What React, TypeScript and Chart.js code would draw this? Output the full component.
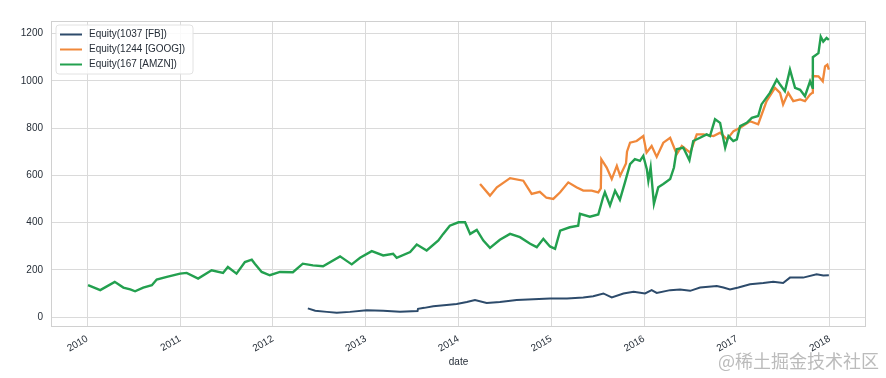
import React, { useEffect, useRef } from "react";
import { Chart, registerables } from "chart.js";

Chart.register(...registerables);

const seriesNames = ["Equity(1037 [FB])", "Equity(1244 [GOOG])", "Equity(167 [AMZN])"];
const seriesColors = ["#2d4b6b", "#f0883a", "#23a04f"];

const fbDates = [
  "2012-05-18", "2012-06-16", "2012-08-01", "2012-09-09", "2012-10-31", "2013-01-05", "2013-03-11",
  "2013-05-16", "2013-07-24", "2013-07-26", "2013-08-20", "2013-09-24", "2013-11-15", "2013-12-25",
  "2014-02-03", "2014-03-07", "2014-04-22", "2014-06-13", "2014-08-18", "2014-10-23", "2014-12-27",
  "2015-03-04", "2015-05-07", "2015-06-15", "2015-07-25", "2015-08-27", "2015-10-12", "2015-11-21",
  "2016-01-05", "2016-01-31", "2016-02-20", "2016-04-13", "2016-05-22", "2016-07-01", "2016-08-09",
  "2016-10-14", "2016-11-09", "2016-12-05", "2017-01-07", "2017-02-22", "2017-04-15", "2017-05-24",
  "2017-07-02", "2017-07-29", "2017-09-19", "2017-11-11", "2017-12-07", "2017-12-29",
];
const fbValues = [
  37, 27, 22, 18, 22, 29, 27,
  23, 26, 35, 39, 46, 51, 55,
  64, 72, 60, 64, 72, 75, 79,
  79, 83, 88, 100, 83, 100, 107,
  100, 114, 102, 114, 117, 111, 125,
  131, 125, 117, 125, 139, 144, 149,
  144, 167, 167, 181, 176, 177,
];

const googDates = [
  "2014-03-27", "2014-05-05", "2014-06-01", "2014-07-23", "2014-09-13", "2014-10-16", "2014-11-17",
  "2014-12-13", "2015-01-09", "2015-02-05", "2015-03-09", "2015-04-10", "2015-05-07", "2015-06-09",
  "2015-07-05", "2015-07-15", "2015-07-17", "2015-08-07", "2015-08-27", "2015-09-16", "2015-09-29",
  "2015-10-22", "2015-10-26", "2015-11-07", "2015-12-03", "2015-12-29", "2016-01-11", "2016-01-31",
  "2016-02-20", "2016-03-17", "2016-04-13", "2016-05-09", "2016-05-29", "2016-07-01", "2016-07-27",
  "2016-08-22", "2016-10-01", "2016-10-27", "2016-11-23", "2016-12-19", "2017-01-14", "2017-02-22",
  "2017-03-26", "2017-04-28", "2017-05-31", "2017-06-20", "2017-07-02", "2017-07-22", "2017-08-11",
  "2017-09-07", "2017-09-26", "2017-10-16", "2017-10-26", "2017-10-27", "2017-11-18", "2017-12-05",
  "2017-12-14", "2017-12-23", "2017-12-29",
];
const googValues = [
  563, 514, 549, 588, 577, 521, 530,
  505, 500, 528, 570, 549, 535, 535,
  528, 545, 668, 633, 584, 640, 598,
  650, 700, 738, 745, 766, 696, 724,
  678, 738, 759, 689, 724, 696, 773,
  773, 766, 780, 752, 787, 801, 829,
  816, 914, 970, 949, 900, 949, 914,
  921, 914, 942, 950, 1020, 1019, 998,
  1061, 1068, 1047,
];

const amznDates = [
  "2010-01-04", "2010-02-21", "2010-04-19", "2010-05-23", "2010-06-19", "2010-07-08", "2010-08-09",
  "2010-09-12", "2010-10-01", "2010-11-10", "2011-01-01", "2011-01-27", "2011-03-13", "2011-05-05",
  "2011-06-19", "2011-07-08", "2011-08-11", "2011-09-13", "2011-10-10", "2011-10-22", "2011-11-18",
  "2011-12-20", "2012-01-29", "2012-03-20", "2012-04-28", "2012-06-07", "2012-07-17", "2012-09-22",
  "2012-11-07", "2012-12-10", "2013-01-25", "2013-03-11", "2013-04-19", "2013-05-03", "2013-06-25",
  "2013-07-21", "2013-08-29", "2013-10-14", "2013-11-02", "2013-11-28", "2014-01-01", "2014-01-27",
  "2014-02-16", "2014-03-14", "2014-04-09", "2014-05-05", "2014-06-13", "2014-07-23", "2014-08-31",
  "2014-10-10", "2014-11-05", "2014-12-01", "2014-12-27", "2015-01-16", "2015-02-05", "2015-03-15",
  "2015-04-17", "2015-04-24", "2015-06-02", "2015-07-05", "2015-07-24", "2015-07-31", "2015-08-20",
  "2015-09-09", "2015-09-28", "2015-10-18", "2015-11-07", "2015-11-26", "2015-12-16", "2015-12-29",
  "2016-01-12", "2016-01-18", "2016-01-27", "2016-02-09", "2016-02-26", "2016-03-17", "2016-04-13",
  "2016-04-28", "2016-05-09", "2016-06-04", "2016-06-28", "2016-07-13", "2016-08-09", "2016-09-04",
  "2016-09-17", "2016-10-07", "2016-10-27", "2016-11-16", "2016-11-29", "2016-12-18", "2017-01-01",
  "2017-01-14", "2017-02-09", "2017-03-01", "2017-03-26", "2017-04-08", "2017-05-11", "2017-06-07",
  "2017-06-20", "2017-07-09", "2017-07-29", "2017-08-18", "2017-09-07", "2017-09-26", "2017-10-16",
  "2017-10-26", "2017-10-27", "2017-11-18", "2017-11-27", "2017-12-07", "2017-12-20", "2017-12-29",
];
const amznValues = [
  135, 114, 149, 125, 117, 109, 125,
  135, 159, 170, 184, 187, 163, 198,
  187, 212, 184, 233, 243, 226, 191,
  177, 191, 190, 226, 219, 215, 257,
  223, 251, 279, 261, 268, 251, 275,
  307, 282, 324, 352, 387, 401, 401,
  352, 369, 324, 293, 327, 352, 338,
  310, 296, 331, 299, 289, 366, 380,
  387, 437, 425, 434, 507, 528, 472,
  535, 496, 570, 647, 668, 661, 682,
  626, 577, 633, 479, 549, 563, 584,
  633, 710, 717, 664, 745, 759, 773,
  766, 837, 822, 717, 766, 745, 752,
  808, 822, 843, 851, 900, 949, 1005,
  984, 956, 1047, 970, 962, 935, 998,
  970, 1100, 1117, 1187, 1166, 1181, 1173,
];

const xTickYears = [2010, 2011, 2012, 2013, 2014, 2015, 2016, 2017, 2018];
const yTickValues = [0, 200, 400, 600, 800, 1000, 1200];
const xAxisTitle = "date";
const watermarkText = "@稀土掘金技术社区";

function toYear(s: string): number {
  const [y, m, d] = s.split("-").map(Number);
  const start = Date.UTC(y, 0, 1);
  const end = Date.UTC(y + 1, 0, 1);
  return y + (Date.UTC(y, m - 1, d) - start) / (end - start);
}

function pts(dates: string[], values: number[]) {
  return dates.map((d, i) => ({ x: toYear(d), y: values[i] }));
}

const FONT = "'Liberation Sans', Arial, Helvetica, sans-serif";
const TEXT = "#262e38";
const GRID = "#dadada";

const framePlugin = {
  id: "frame",
  beforeDatasetsDraw(chart: any) {
    const { ctx, chartArea: a } = chart;
    ctx.save();
    ctx.strokeStyle = "#d0d0d0";
    ctx.lineWidth = 1;
    ctx.strokeRect(a.left + 0.5, a.top + 0.5, a.right - a.left - 1, a.bottom - a.top - 1);
    ctx.restore();
  },
  afterDraw(chart: any) {
    const { ctx, chartArea: a } = chart;
    ctx.save();
    const bx = a.left + 5, by = a.top + 4, bw = 137, bh = 49;
    ctx.beginPath();
    const r = 3;
    ctx.moveTo(bx + r, by);
    ctx.lineTo(bx + bw - r, by);
    ctx.quadraticCurveTo(bx + bw, by, bx + bw, by + r);
    ctx.lineTo(bx + bw, by + bh - r);
    ctx.quadraticCurveTo(bx + bw, by + bh, bx + bw - r, by + bh);
    ctx.lineTo(bx + r, by + bh);
    ctx.quadraticCurveTo(bx, by + bh, bx, by + bh - r);
    ctx.lineTo(bx, by + r);
    ctx.quadraticCurveTo(bx, by, bx + r, by);
    ctx.closePath();
    ctx.fillStyle = "rgba(255,255,255,0.85)";
    ctx.fill();
    ctx.strokeStyle = "#e2e2e2";
    ctx.lineWidth = 1;
    ctx.stroke();
    ctx.font = `10px ${FONT}`;
    ctx.textBaseline = "middle";
    ctx.textAlign = "left";
    seriesNames.forEach((name, i) => {
      const yy = by + 9.5 + i * 15;
      ctx.strokeStyle = seriesColors[i];
      ctx.lineWidth = 2;
      ctx.beginPath();
      ctx.moveTo(bx + 4, yy);
      ctx.lineTo(bx + 26, yy);
      ctx.stroke();
      ctx.fillStyle = TEXT;
      ctx.fillText(name, bx + 33, yy);
    });
    ctx.font = `18px 'Noto Sans CJK SC', sans-serif`;
    ctx.textAlign = "right";
    ctx.textBaseline = "middle";
    ctx.fillStyle = "rgba(175,175,175,0.85)";
    ctx.fillText(watermarkText, 879, 361);
    ctx.restore();
  },
};

export default function App() {
  const ref = useRef<HTMLCanvasElement | null>(null);
  useEffect(() => {
    if (!ref.current) return;
    const chart = new Chart(ref.current, {
      type: "line",
      data: {
        datasets: [
          { label: seriesNames[0], data: pts(fbDates, fbValues), borderColor: seriesColors[0], backgroundColor: seriesColors[0], borderWidth: 2, pointRadius: 0, order: 2 },
          { label: seriesNames[1], data: pts(googDates, googValues), borderColor: seriesColors[1], backgroundColor: seriesColors[1], borderWidth: 2.3, pointRadius: 0, order: 1 },
          { label: seriesNames[2], data: pts(amznDates, amznValues), borderColor: seriesColors[2], backgroundColor: seriesColors[2], borderWidth: 2.4, pointRadius: 0, order: 0 },
        ],
      },
      options: {
        animation: false,
        responsive: true,
        maintainAspectRatio: false,
        layout: { padding: { left: 0, top: 21, right: 20, bottom: 0 } },
        plugins: { legend: { display: false }, tooltip: { enabled: false } },
        scales: {
          x: {
            type: "linear",
            min: 2009.609,
            max: 2018.392,
            afterFit: (s: any) => { s.height = 51; },
            afterBuildTicks: (s: any) => { s.ticks = xTickYears.map((v) => ({ value: v })); },
            ticks: {
              callback: (v: any) => String(v),
              minRotation: 30,
              maxRotation: 30,
              autoSkip: false,
              padding: 6,
              color: TEXT,
              font: { family: FONT, size: 10 },
            },
            grid: { color: GRID, lineWidth: 1, tickLength: 0 },
            border: { display: false },
            title: { display: true, text: xAxisTitle, color: TEXT, font: { family: FONT, size: 10 }, padding: { top: 0, bottom: 10 } },
          },
          y: {
            type: "linear",
            min: -42,
            max: 1253,
            afterFit: (s: any) => { s.width = 51; },
            afterBuildTicks: (s: any) => { s.ticks = yTickValues.map((v) => ({ value: v })); },
            ticks: {
              callback: (v: any) => String(v),
              padding: 8,
              color: TEXT,
              font: { family: FONT, size: 10 },
            },
            grid: { color: GRID, lineWidth: 1, tickLength: 0 },
            border: { display: false },
          },
        },
      },
      plugins: [framePlugin],
    });
    return () => chart.destroy();
  }, []);
  return (
    <div style={{ position: "absolute", left: 0, top: 0, width: 886, height: 378, background: "#fff" }}>
      <canvas ref={ref} />
    </div>
  );
}
